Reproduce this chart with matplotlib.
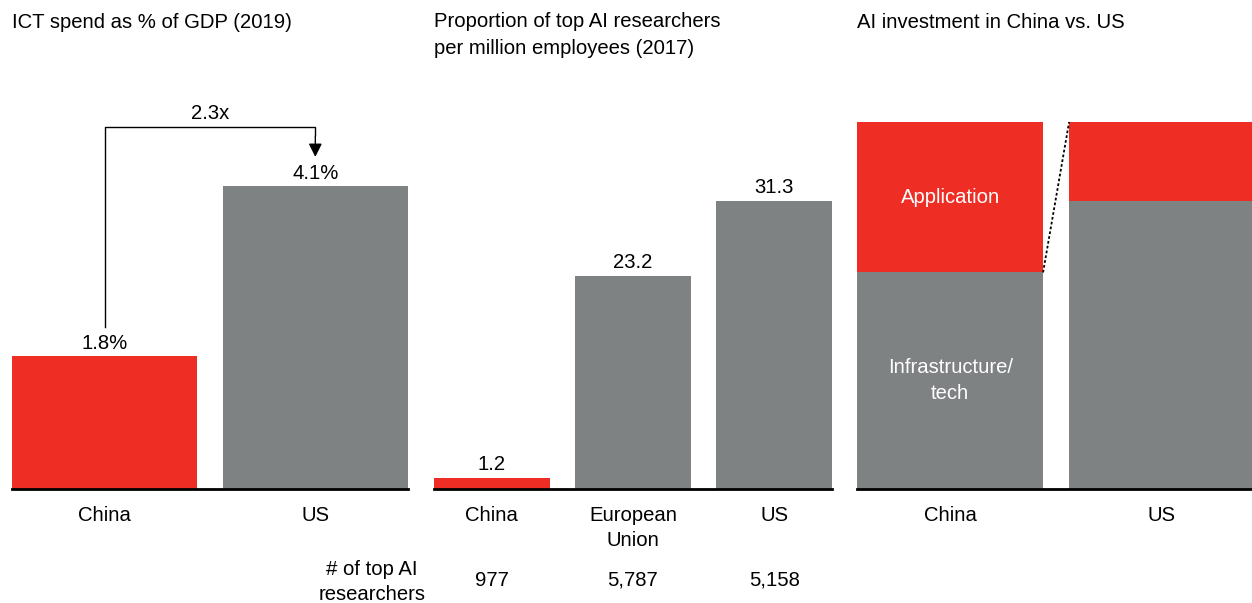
import matplotlib
matplotlib.use("Agg")
import matplotlib.pyplot as plt

# ---- data ----
ict_countries = ["China", "US"]
ict_values = [1.8, 4.1]
ict_labels = ["1.8%", "4.1%"]
ict_ratio_label = "2.3x"

res_countries = ["China", "European\nUnion", "US"]
res_values = [1.2, 23.2, 31.3]
res_counts = ["977", "5,787", "5,158"]

inv_countries = ["China", "US"]
inv_infra = [59.0, 78.5]
inv_app = [41.0, 21.5]

RED = "#EE2E24"
GRAY = "#7F8283"
FS = 14.6
LS = 1.45
plt.rcParams['font.family'] = ['Liberation Sans', 'DejaVu Sans']

W, H = 1252, 603
fig = plt.figure(figsize=(W / 100, H / 100), dpi=100)

def px_axes(x0, x1, ytop, ybot):
    return fig.add_axes([x0 / W, (H - ybot) / H, (x1 - x0) / W, (ybot - ytop) / H])

def clean(ax):
    for s in ["top", "right", "left"]:
        ax.spines[s].set_visible(False)
    ax.spines["bottom"].set_linewidth(2)
    ax.spines["bottom"].set_color("black")
    ax.set_yticks([])
    ax.tick_params(axis="x", length=0, labelsize=FS, pad=12)

YTOP, YBOT = 100, 489

# ---- panel 1 ----
ax1 = px_axes(12, 408, YTOP, YBOT)
w1 = 0.88
x1 = list(range(len(ict_values)))
ax1.bar(x1, ict_values, width=w1, color=[RED, GRAY])
ax1.set_xlim(-0.44, len(x1) - 1 + 0.44)
ax1.set_ylim(0, 389 / 73.8)
ax1.set_xticks(x1)
ax1.set_xticklabels(ict_countries)
clean(ax1)
for xi, v, lab in zip(x1, ict_values, ict_labels):
    ax1.text(xi, v + 0.04, lab, ha="center", va="bottom", fontsize=FS)
ytop_arrow = max(ict_values) + 0.8
ax1.plot([x1[0], x1[0], x1[1], x1[1]],
         [ict_values[0] + 0.4, ytop_arrow, ytop_arrow, ytop_arrow - 0.1],
         color="black", lw=1)
ax1.annotate("", xy=(x1[1], max(ict_values) + 0.4), xytext=(x1[1], ytop_arrow - 0.12),
             arrowprops=dict(arrowstyle="-|>", color="black", lw=1, mutation_scale=20,
                             shrinkA=0, shrinkB=0))
ax1.text(0.5, ytop_arrow + 0.06, ict_ratio_label, ha="center", va="bottom", fontsize=FS)
fig.text(12 / W, 1 - 22 / H, "ICT spend as % of GDP (2019)", ha="left", va="center", fontsize=FS)

# ---- panel 2 ----
ax2 = px_axes(434, 832, YTOP, YBOT)
w2 = 0.823
x2 = list(range(len(res_values)))
ax2.bar(x2, res_values, width=w2, color=[RED, GRAY, GRAY])
ax2.set_xlim(-0.41, len(x2) - 1 + 0.41)
ax2.set_ylim(0, 389 / 9.2)
ax2.set_xticks(x2)
ax2.set_xticklabels(res_countries, linespacing=LS)
clean(ax2)
for xi, v in zip(x2, res_values):
    ax2.text(xi, v + 0.4, f"{v:.1f}", ha="center", va="bottom", fontsize=FS)
for xi, c in zip(x2, res_counts):
    ax2.annotate(c, xy=(xi, 0), xycoords="data", xytext=(0, -91),
                 textcoords="offset pixels", ha="center", va="center", fontsize=FS)
fig.text(372 / W, 1 - 582 / H, "# of top AI\nresearchers", ha="center", va="center",
         fontsize=FS, linespacing=LS)
fig.text(434 / W, 1 - 35 / H, "Proportion of top AI researchers\nper million employees (2017)",
         ha="left", va="center", fontsize=FS, linespacing=1.5)

# ---- panel 3 ----
ax3 = px_axes(857, 1252, YTOP, YBOT)
w3 = 0.877
x3 = list(range(len(inv_infra)))
ax3.bar(x3, inv_infra, width=w3, color=GRAY)
ax3.bar(x3, inv_app, width=w3, bottom=inv_infra, color=RED)
ax3.set_xlim(-0.44, len(x3) - 1 + 0.425)
ax3.set_ylim(0, 389 / 3.67)
ax3.set_xticks(x3)
ax3.set_xticklabels(inv_countries)
clean(ax3)
ax3.plot([x3[0] + w3 / 2, x3[1] - w3 / 2], [inv_infra[0], inv_infra[1] + inv_app[1]],
         color="black", lw=1.3, ls=(0, (1.5, 1.2)))
ax3.text(x3[0], inv_infra[0] + inv_app[0] * 0.5, "Application", ha="center", va="center",
         color="white", fontsize=FS)
ax3.text(x3[0], inv_infra[0] * 0.5, "Infrastructure/\ntech", ha="center", va="center",
         color="white", fontsize=FS, linespacing=LS)
fig.text(857 / W, 1 - 22 / H, "AI investment in China vs. US", ha="left", va="center", fontsize=FS)

fig.savefig("out.png", dpi=100)
